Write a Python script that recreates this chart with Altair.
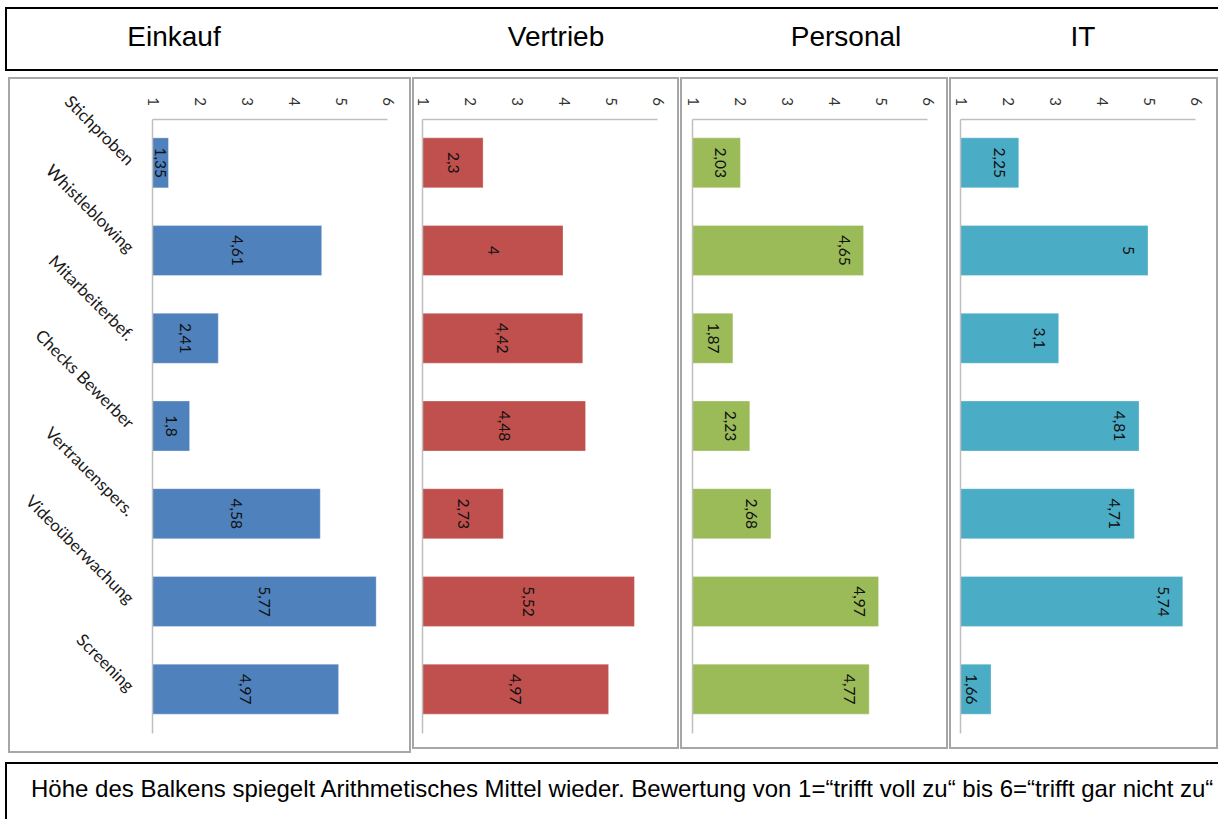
import altair as alt
import pandas as pd

categories = ["Stichproben", "Whistleblowing", "Mitarbeiterbef.", "Checks Bewerber",
              "Vertrauenspers.", "Videoüberwachung", "Screening"]
departments = ["Einkauf", "Vertrieb", "Personal", "IT"]
einkauf = [1.35, 4.61, 2.41, 1.8, 4.58, 5.77, 4.97]
vertrieb = [2.3, 4, 4.42, 4.48, 2.73, 5.52, 4.97]
personal = [2.03, 4.65, 1.87, 2.23, 2.68, 4.97, 4.77]
it = [2.25, 5, 3.1, 4.81, 4.71, 5.74, 1.66]
colors = ["#4F81BD", "#C0504D", "#9BBB59", "#4BACC6"]
ticks = [1, 2, 3, 4, 5, 6]
footnote = ("Höhe des Balkens spiegelt Arithmetisches Mittel wieder. "
            "Bewertung von 1=\u201ctrifft voll zu\u201c bis 6=\u201ctrifft gar nicht zu\u201c")

CAL = "Lato"
ARIAL = "Liberation Sans"


def fmt(v):
    return f"{v:g}".replace(".", ",")


def panel(vals, color, frame, label_mode, show_y):
    df = pd.DataFrame({"Kategorie": categories, "Wert": vals,
                       "Label": [fmt(v) for v in vals]})
    base = alt.Chart(df)
    if show_y:
        yaxis = alt.Axis(title=None, orient="left", labelAngle=45, labelAlign="right",
                         labelBaseline="middle", labelPadding=22, ticks=False,
                         domainColor="#bfbfbf", domainWidth=1.5, labelFont=CAL,
                         labelFontSize=17, labelColor="#1a1a1a", zindex=2)
    else:
        yaxis = alt.Axis(title=None, orient="left", labels=False, ticks=False,
                         domainColor="#bfbfbf", domainWidth=1.5, zindex=2)
    y = alt.Y("Kategorie:N", sort=categories,
              scale=alt.Scale(paddingInner=0.43, paddingOuter=0.215), axis=yaxis)
    x = alt.X("Wert:Q", title=None,
              scale=alt.Scale(domain=[1, 6], zero=False, nice=False),
              axis=alt.Axis(orient="top", values=ticks, labelAngle=90, ticks=False,
                            grid=False, domainColor="#bfbfbf", domainWidth=1.5,
                            labelPadding=18, labelFont=CAL, labelFontSize=15,
                            labelColor="#333333", labelAlign="center",
                            labelBaseline="middle", zindex=2))
    fx1, fx2, fy1, fy2 = frame
    frame_layer = alt.Chart(pd.DataFrame({"f": [0]})).mark_rect(
        fill="white", fillOpacity=0, stroke="#a6a6a6", strokeWidth=2
    ).encode(x=alt.value(fx1), x2=alt.value(fx2), y=alt.value(fy1), y2=alt.value(fy2))
    bars = base.mark_bar(color=color, stroke="white", strokeWidth=0.6,
                         strokeOpacity=0.5).encode(y=y, x=x, x2=alt.datum(1))
    if label_mode == "center":
        text = base.transform_calculate(mid="(datum.Wert + 1) / 2").mark_text(
            angle=90, align="center", baseline="middle", font=CAL, fontSize=15.5,
            color="#111111"
        ).encode(y=alt.Y("Kategorie:N", sort=categories), x=alt.X("mid:Q"), text="Label:N")
    else:
        text = base.mark_text(
            angle=90, align="center", baseline="top", dy=13, font=CAL, fontSize=15.5,
            color="#111111"
        ).encode(y=alt.Y("Kategorie:N", sort=categories), x=alt.X("Wert:Q"), text="Label:N")
    return alt.layer(frame_layer, bars, text).properties(width=235, height=614)


panels = alt.hconcat(
    panel(einkauf, colors[0], (-143, 258, -41, 633), "center", True),
    panel(vertrieb, colors[1], (-9, 256, -41, 629), "center", False),
    panel(personal, colors[2], (-11, 255, -41, 629), "end", False),
    panel(it, colors[3], (-10, 257, -41, 629), "end", False),
    spacing=1,
)

one = pd.DataFrame({"f": [0]})


def hline(x1, x2, y):
    return alt.Chart(one).mark_rule(color="black", strokeWidth=2).encode(
        x=alt.value(x1), x2=alt.value(x2), y=alt.value(y))


def vline(x, y1, y2):
    return alt.Chart(one).mark_rule(color="black", strokeWidth=2).encode(
        x=alt.value(x), y=alt.value(y1), y2=alt.value(y2))


# header box (open to the right, as in the original): origin = first panel's plot origin
title_pos = [22, 404, 694, 931]
header_texts = [
    alt.Chart(pd.DataFrame({"Abteilung": [d]})).mark_text(
        font=ARIAL, fontSize=28, baseline="alphabetic", align="center", color="black"
    ).encode(x=alt.value(p), y=alt.value(38), text="Abteilung:N")
    for d, p in zip(departments, title_pos)
]
header = alt.layer(
    hline(-147, 1066, 0), hline(-147, 1066, 62), vline(-146, 0, 62), *header_texts
).properties(width=1000, height=62)

footer_text = alt.Chart(pd.DataFrame({"Text": [footnote]})).mark_text(
    font=ARIAL, fontSize=24, baseline="alphabetic", align="left", color="black"
).encode(x=alt.value(-121), y=alt.value(38), text="Text:N")
footer = alt.layer(
    hline(-147, 1066, 4), vline(-146, 4, 60), footer_text
).properties(width=1000, height=60)

chart = alt.vconcat(header, panels, footer, spacing=6).properties(
    padding={"left": 4, "top": 7, "right": 0, "bottom": 0}
).configure(background="white").configure_view(stroke=None, strokeWidth=0)

chart.save("out.html", embed_options={"renderer": "svg", "actions": False})
